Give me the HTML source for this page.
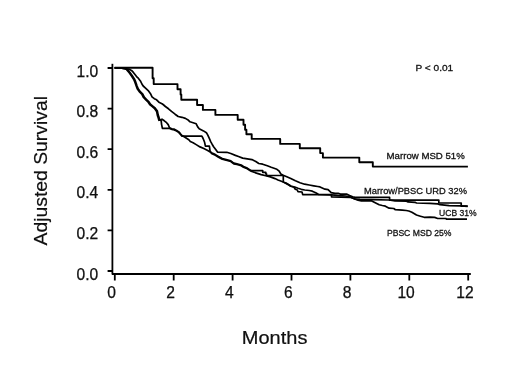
<!DOCTYPE html>
<html>
<head>
<meta charset="utf-8">
<style>
html,body{margin:0;padding:0;background:#fff;}
body{width:520px;height:390px;overflow:hidden;}
svg{display:block;filter:grayscale(1);}
text{font-family:"Liberation Sans", sans-serif;fill:#111;}
</style>
</head>
<body>
<svg width="520" height="390" viewBox="0 0 520 390">
<rect width="520" height="390" fill="#fff"/>
<g stroke="#000" stroke-width="1.8" fill="none">
<path d="M112.4 63.8 V274.5"/>
<path d="M112 274 H470.8"/>
<path d="M107.6 68 H112 M107.6 108.6 H112 M107.6 149.2 H112 M107.6 189.8 H112 M107.6 230.4 H112 M107.6 271 H112"/>
<path d="M114.8 274 V280.4 M173.7 274 V280.4 M232.6 274 V280.4 M291.5 274 V280.4 M350.4 274 V280.4 M409.3 274 V280.4 M468.2 274 V280.4"/>
</g>
<g font-size="15.6" text-anchor="end" stroke="#000" stroke-width="0.25">
<text x="98.2" y="76.5">1.0</text>
<text x="98.2" y="117.1">0.8</text>
<text x="98.2" y="157.7">0.6</text>
<text x="98.2" y="198.3">0.4</text>
<text x="98.2" y="238.9">0.2</text>
<text x="98.2" y="279.5">0.0</text>
</g>
<g font-size="15.6" text-anchor="middle" stroke="#000" stroke-width="0.25">
<text x="111.6" y="298.3">0</text>
<text x="170.5" y="298.3">2</text>
<text x="229.4" y="298.3">4</text>
<text x="288.3" y="298.3">6</text>
<text x="347.2" y="298.3">8</text>
<text x="406.1" y="298.3">10</text>
<text x="465.0" y="298.3">12</text>
</g>
<text x="47" y="245.5" font-size="19" stroke="#000" stroke-width="0.2" transform="rotate(-90 47 245.5)" textLength="149.5" lengthAdjust="spacingAndGlyphs">Adjusted Survival</text>
<text x="241.8" y="343.9" font-size="19" stroke="#000" stroke-width="0.2" textLength="65.6" lengthAdjust="spacingAndGlyphs">Months</text>
<g font-size="9.7" stroke="#111" stroke-width="0.3">
<text x="415.5" y="71.2" textLength="37.7" lengthAdjust="spacingAndGlyphs">P &lt; 0.01</text>
<text x="386.6" y="159" textLength="78.2" lengthAdjust="spacingAndGlyphs">Marrow MSD 51%</text>
<text x="364" y="193.8" textLength="103" lengthAdjust="spacingAndGlyphs">Marrow/PBSC URD 32%</text>
<text x="439" y="215.6" textLength="37.7" lengthAdjust="spacingAndGlyphs">UCB 31%</text>
<text x="386.9" y="236.2" textLength="64.6" lengthAdjust="spacingAndGlyphs">PBSC MSD 25%</text>
</g>
<g stroke="#000" fill="none" stroke-linejoin="round">
<path stroke-width="1.9" d="M114.6 67.8 H152.6 V78.3 H153.7 V84.1 H177.5 V89.3 H180.6 V94.5 H181.3 V99.8 H197.1 V105 H202.9 V109.9 H215.4 V114.9 H237.7 V119.7 H243.5 V124.8 H245.1 V129.7 H246.4 V134.2 H251.7 V138.9 H280.2 V143.9 H299.8 V148.2 H320.2 V153.1 H322.9 V157.6 H359.3 V162.3 H372.8 V166.6 H467.9"/>
<path stroke-width="1.7" d="M114.6 67.8 L120.5 67.8 L123.5 68.3 L125.8 68.9 L129.2 69.2 L131.5 70.4 L133.4 72.4 L135.2 74.7 L137.1 77.2 L138.3 78.2 L140.4 80.9 L141.9 84.0 L143.2 86.0 L145.8 88.3 L148.2 90.6 L150.5 93.7 L152.0 96.8 L154.3 98.7 L156.6 99.8 L158.9 102.2 L162.0 103.7 L163.1 104.5 L165.4 106.5 L168.5 108.8 L171.5 111.4 L175.1 114.2 L178.2 116.5 L182.0 117.3 L185.4 118.4 L188.5 120.3 L190.0 121.8 L193.1 122.7 L196.2 123.8 L197.7 126.9 L199.2 128.8 L203.5 130.9 L206.4 132.7 L207.8 135.2 L209.2 138.1 L210.7 141.6 L212.1 144.2 L213.6 146.7 L215.7 149.6 L217.5 152.1 L226.8 152.3 L230.8 153.5 L235.4 155.4 L238.5 156.5 L242.7 158.1 L247.3 158.8 L251.9 159.6 L255.8 161.5 L258.8 163.5 L262.7 164.2 L267.3 165.8 L271.2 167.3 L276.9 169.3 L279.2 171.2 L280.8 173.9 L283.1 175.3 L286.2 176.5 L290.8 178.5 L295.4 180.8 L300.0 182.7 L304.6 184.2 L309.2 185.0 L313.8 185.8 L317.7 186.5 L320.0 186.9 L325.0 189.2 L328.1 189.6 L331.2 192.7 L335.0 193.3 L338.1 193.3 L340.4 194.1 L346.5 194.1 L349.6 195.6 L352.7 196.8 L355.0 197.4 L389.6 197.4 L389.6 200.2 L438.8 200.2 L438.8 203.0 L461.2 203.0 L461.2 206.1 L467.7 206.1"/>
<path stroke-width="1.7" d="M114.6 67.8 L120.5 67.8 L123.5 68.3 L125.8 68.9 L127.4 69.3 L130.0 72.5 L132.3 75.7 L134.4 78.9 L135.6 81.7 L136.4 84.0 L137.0 85.7 L138.2 88.8 L140.5 91.9 L142.8 94.2 L144.3 97.2 L146.6 99.5 L149.0 101.9 L150.5 104.2 L152.8 106.1 L155.1 108.0 L157.4 111.1 L158.2 115.1 L159.0 117.4 L159.7 120.0 L161.2 120.8 L161.6 124.6 L162.4 128.3 L168.9 128.3 L172.0 129.5 L174.3 129.9 L176.6 131.1 L178.9 132.6 L180.5 134.5 L182.0 136.2 L183.4 136.2 L201.9 136.2 L203.1 138.5 L204.6 142.3 L205.4 146.2 L209.4 146.2 L210.0 150.8 L211.5 153.4 L215.4 155.3 L218.5 157.2 L222.3 159.2 L226.2 160.3 L230.8 161.5 L233.8 163.8 L236.9 164.5 L241.2 165.7 L243.5 167.2 L247.3 168.8 L250.4 170.9 L251.2 170.6 L262.7 170.6 L262.7 172.3 L265.8 172.3 L265.8 173.8 L266.5 173.8 L266.5 175.5 L283.3 175.5 L283.3 182.0 L284.7 182.7 L289.3 185.3 L290.7 186.3 L294.0 187.3 L295.3 189.3 L297.3 190.0 L298.0 191.7 L302.0 192.0 L302.7 194.6 L331.5 194.6 L331.5 196.8 L350.4 197.3 L354.2 198.7 L358.0 200.2 L361.3 200.8 L371.7 200.8 L372.3 201.2 L376.2 203.2 L379.2 204.7 L382.3 205.5 L385.4 206.2 L387.7 207.4 L389.2 208.2 L393.8 208.5 L395.4 209.7 L402.3 210.1 L406.2 210.5 L408.8 211.0 L411.9 212.3 L416.5 215.0 L420.4 216.2 L424.2 217.3 L430.0 217.2 L434.6 217.4 L437.7 218.5 L445.8 218.5 L446.5 219.1 L467.0 219.1"/>
<path stroke-width="1.7" d="M114.6 67.8 L120.5 67.8 L123.5 68.3 L125.8 68.9 L126.6 69.6 L129.2 72.8 L131.5 76.0 L133.6 79.2 L134.8 82.0 L135.6 84.3 L136.2 86.0 L137.4 89.1 L139.7 92.2 L142.0 94.5 L143.5 97.5 L145.8 99.8 L148.2 102.2 L149.7 104.5 L152.0 106.4 L154.3 108.3 L156.6 111.4 L157.4 115.4 L158.2 117.7 L158.9 120.3 L162.0 119.2 L164.3 120.8 L166.6 122.7 L168.2 124.6 L169.3 127.3 L170.5 128.3 L172.0 128.8 L174.3 129.2 L176.6 130.4 L178.9 131.9 L180.5 133.8 L182.0 135.5 L183.4 136.2 L186.5 138.2 L188.8 139.7 L190.3 141.5 L193.1 142.7 L196.2 144.6 L200.0 146.9 L203.8 148.5 L207.7 150.4 L211.5 152.7 L215.4 154.6 L218.5 156.5 L222.3 158.5 L226.2 159.6 L230.8 160.8 L233.8 163.1 L236.9 163.8 L241.2 165.0 L243.5 166.5 L247.3 168.1 L250.4 170.2 L251.9 171.5 L256.5 173.1 L261.2 174.6 L265.8 175.8 L270.4 176.9 L275.0 178.6 L278.0 180.0 L280.7 181.0 L283.3 182.0 L286.0 183.0 L289.3 185.0 L290.7 186.0 L294.7 187.0 L298.0 188.3 L301.3 189.3 L304.7 190.0 L309.2 190.5 L312.3 191.2 L316.2 193.1 L318.5 194.5 L331.0 194.8 L335.0 195.2 L339.6 195.6 L345.8 196.0 L349.6 196.8 L355.5 199.2 L360.0 199.4 L371.5 199.6 L389.2 200.0 L395.0 200.8 L406.5 201.2 L408.0 201.9 L415.0 202.3 L416.5 203.0 L430.0 203.4 L437.7 203.9 L440.0 204.7 L449.2 205.7 L460.8 205.8 L467.7 206.4"/>
</g>
</svg>
</body>
</html>
